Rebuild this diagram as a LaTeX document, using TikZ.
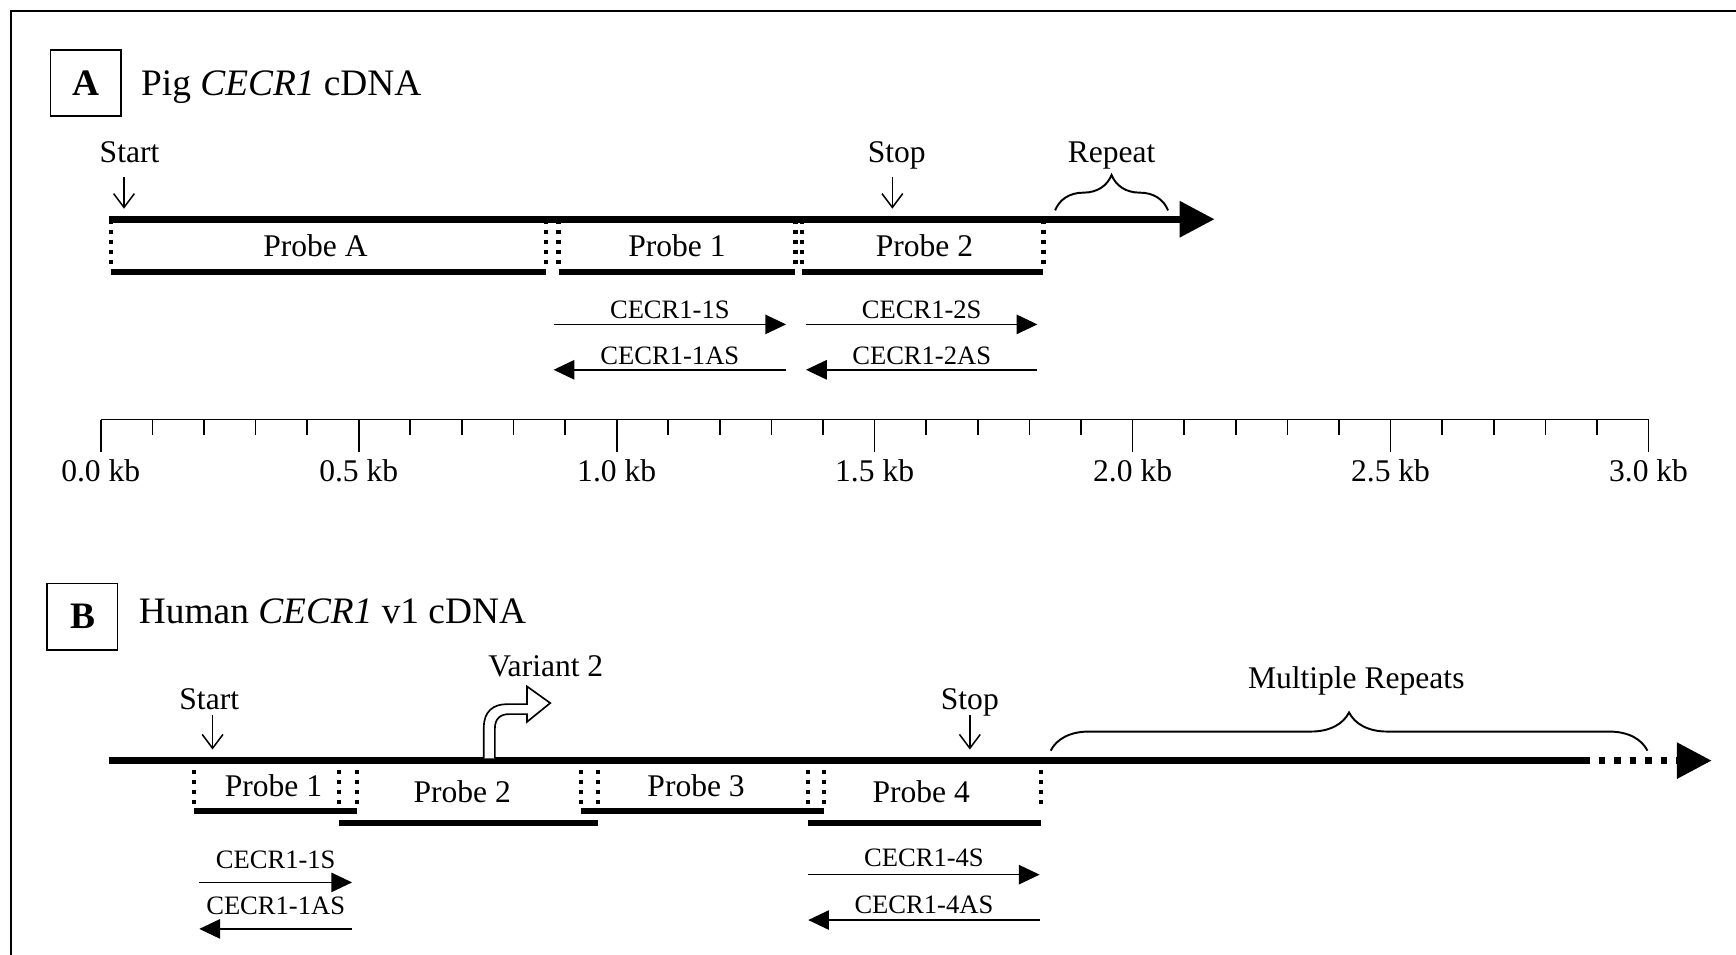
\documentclass[tikz,border=0pt]{standalone}
\usepackage{fontspec}
\setmainfont{Liberation Serif}
\usetikzlibrary{arrows.meta,decorations.pathreplacing}

\begin{document}
\begin{tikzpicture}[x=0.4pt,y=-0.4pt,
    lbl/.style={font=\fontsize{11.4}{13}\selectfont,inner sep=0pt,anchor=base},
    ttl/.style={font=\fontsize{13.5}{16}\selectfont,inner sep=0pt,anchor=base west},
    panel/.style={draw,line width=0.6pt,inner sep=0pt,minimum width=25.4pt,minimum height=24pt,font=\fontsize{13.5}{16}\selectfont\bfseries},
    prm/.style={font=\fontsize{9.6}{11}\selectfont,inner sep=0pt,anchor=base},
    cdna/.style={line width=2.4pt,-{Triangle[length=12.6pt,width=12.6pt]}},
    probe/.style={inner sep=0pt,font=\fontsize{11.4}{13}\selectfont},
    pbot/.style={line width=2pt},
    pside/.style={line width=1.5pt,dash pattern=on 1.5pt off 2.1pt},
    primer/.style={line width=0.55pt,-{Triangle[length=7.5pt,width=7pt]}},
    site/.style={line width=0.55pt,-{Straight Barb[length=5pt,width=7.5pt]}},
    scl/.style={line width=0.6pt},
    rep/.style={line width=0.7pt,decorate,decoration={brace,amplitude=#1}}]
    \useasboundingbox (0,0) rectangle (1568,862);
    % frame
    \draw[line width=0.8pt] (10,880) -- (10,10) -- (1580,10);

    % A: pig cDNA
    \node[panel] (boxA) at (77.5,75) {A};
    \node[ttl] (ttlA) at (127,86) {Pig \textit{CECR1} cDNA};
    \coordinate (a0) at (98,198); \coordinate (a1) at (1097,198);
    \draw[cdna] (a0) -- (a1);
    \node[lbl] (startA) at (117,147) {Start};
    \draw[site] ([xshift=-2pt,yshift=-5pt]startA.base) -- ++(0,29);
    \node[lbl] (stopA) at (810,147) {Stop};
    \draw[site] ([xshift=-1.6pt,yshift=-5pt]stopA.base) -- ++(0,29);
    \node[lbl] (repA) at (1004,147) {Repeat};
    \coordinate (ra0) at (953,190); \coordinate (ra1) at (1055,190);
    \draw[rep=12.8pt] (ra0) -- (ra1);
    \foreach \n/\xl/\xr/\yt/\yb/\dx/\txt in {pA/101/493/199/245/-12/Probe A, p1/505/718/199/245/0/Probe 1, p2/725/942/199/245/1.5/Probe 2}{
      \node[probe,minimum width={(\xr-\xl)*0.4pt},minimum height={(\yb-\yt)*0.4pt}] (\n) at ({(\xl+\xr)/2},{(\yt+\yb)/2}) {};
      \node[probe] (\n-t) at ([xshift=\dx*0.4pt]\n.center) {\txt};
      \draw[pside] (\n.north west) -- ++(0,42);
      \draw[pside] (\n.north east) -- ++(0,42);
      \draw[pbot] (\n.south west) -- (\n.south east);
    }

    % scale
    \coordinate (s0) at (91,379); \coordinate (s1) at (1489,379);
    \draw[scl] (s0) -- (s1);
    \foreach \i in {1,...,29} \draw[scl] (91+46.6*\i,379) -- ++(0,14);
    \foreach \i/\v in {0/0.0,1/0.5,2/1.0,3/1.5,4/2.0,5/2.5,6/3.0}{
      \draw[scl] (91+233*\i,379) -- ++(0,29);
      \node[lbl] (kb\i) at (91+233*\i,435) {\v\ kb};
    }

    % B: human cDNA
    \node[panel] (boxB) at (74.5,557) {B};
    \node[ttl] (ttlB) at (125,563) {Human \textit{CECR1} v1 cDNA};
    \coordinate (b0) at (98,687); \coordinate (b1) at (1436,687);
    \coordinate (b2) at (1444,687); \coordinate (b3) at (1546,687);
    \draw[line width=2.4pt] (b0) -- (b1);
    \draw[cdna,dash pattern=on 2.4pt off 3.2pt] (b2) -- (b3);
    \node[lbl] (startB) at (189,641) {Start};
    \draw[site] ([xshift=1.2pt,yshift=-2pt]startB.base) -- ++(0,31);
    \node[lbl] (stopB) at (876,641) {Stop};
    \draw[site] ([yshift=-2pt]stopB.base) -- ++(0,31);
    \node[lbl] (var2) at (493,611) {Variant 2};
    \draw[line width=0.6pt,fill=white] (437,685) -- (437,657) .. controls (437,643) and (445,636) .. (458,636) -- (476,636) -- (476,620) -- (497,635) -- (476,652) -- (476,645) -- (460,645) .. controls (452,645) and (447,649) .. (447,658) -- (447,685);
    \node[lbl] (repB) at (1225,622) {Multiple Repeats};
    \coordinate (rb0) at (949,678); \coordinate (rb1) at (1488,678);
    \draw[rep=13.8pt] (rb0) -- (rb1);
    \foreach \n/\xl/\xr/\yt/\yb/\dx/\txt in {pb1/176/322/687/732/-2/Probe 1, pb2/307/540/687/743/-6/Probe 2, pb3/525.5/744/687/732/-6/Probe 3, pb4/730/940/687/743/-3/Probe 4}{
      \node[probe,minimum width={(\xr-\xl)*0.4pt},minimum height={(\yb-\yt)*0.4pt}] (\n) at ({(\xl+\xr)/2},{(\yt+\yb)/2}) {};
      \node[probe] (\n-t) at ([xshift=\dx*0.4pt]\n.center) {\txt};
      \draw[pside] (\n.north west) -- ++(0,42);
      \draw[pside] (\n.north east) -- ++(0,42);
      \draw[pbot] (\n.south west) -- (\n.south east);
    }

    % primers
    \foreach \n/\xa/\xb/\ya/\yl/\txt in {
        p1s/500/710/293/288/CECR1-1S, p1as/710/500/334/329/CECR1-1AS,
        p2s/728/937/293/288/CECR1-2S, p2as/937/728/334/329/CECR1-2AS,
        q1s/180/318/797/784/CECR1-1S, q1as/318/180/839/826/CECR1-1AS,
        q4s/730/939/790/783/CECR1-4S, q4as/939/730/831/825/CECR1-4AS}{
      \coordinate (\n-a) at (\xa,\ya);
      \coordinate (\n-b) at (\xb,\ya);
      \node[prm] (\n) at ({(\xa+\xb)/2},\yl) {\txt};
      \draw[primer] (\n-a) -- (\n-b);
    }
\end{tikzpicture}
\end{document}
